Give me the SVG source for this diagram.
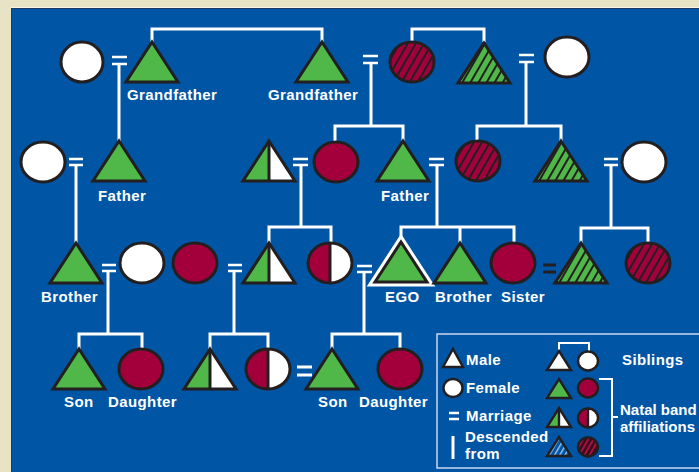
<svg xmlns="http://www.w3.org/2000/svg" width="699" height="472" viewBox="0 0 699 472">
<style>
.lbl{font-family:"Liberation Sans",Arial,Helvetica,sans-serif;font-weight:bold;font-size:15px;fill:#fff;letter-spacing:0.4px}
.tight{letter-spacing:0}
.s{stroke:#231f20;stroke-width:3;stroke-linejoin:miter}
.s2{stroke:#231f20;stroke-width:2.4;stroke-linejoin:miter}
.nf{fill:none}
.fg{fill:#50b848}
.fr{fill:#a3003b}
.fw{fill:#fff}
.fhr{fill:url(#hatchR)}
.fhg{fill:url(#hatchG)}
.fhb{fill:url(#hatchB)}
.fhd{fill:url(#hatchD)}
.link{fill:none;stroke:#fff;stroke-width:3}
.eq{fill:none;stroke:#fff;stroke-width:2.5}
.thin{fill:none;stroke:#fff;stroke-width:2}
</style>
<defs>
  <pattern id="hatchR" patternUnits="userSpaceOnUse" width="7" height="7" patternTransform="rotate(30)">
    <rect width="7" height="7" fill="#a3003b"/><rect width="2" height="7" fill="#231f20"/>
  </pattern>
  <pattern id="hatchG" patternUnits="userSpaceOnUse" width="7" height="7" patternTransform="rotate(30)">
    <rect width="7" height="7" fill="#50b848"/><rect width="2" height="7" fill="#231f20"/>
  </pattern>
  <pattern id="hatchB" patternUnits="userSpaceOnUse" width="4.5" height="4.5" patternTransform="rotate(30)">
    <rect width="4.5" height="4.5" fill="#0055a4"/><rect width="1.4" height="4.5" fill="#9cc4ec"/>
  </pattern>
  <pattern id="hatchD" patternUnits="userSpaceOnUse" width="4.5" height="4.5" patternTransform="rotate(30)">
    <rect width="4.5" height="4.5" fill="#3a0d1e"/><rect width="1.8" height="4.5" fill="#b0103f"/>
  </pattern>
  <!-- main symbols: triangle anchored at apex, ellipse at centre -->
  <path id="tri" d="M0,0L26,40H-26Z"/>
  <path id="triL" d="M0,0V40H-26Z"/>
  <path id="triMid" d="M0,0V40"/>
  <ellipse id="circ" rx="22" ry="20"/>
  <path id="circL" d="M0,-20A22,20 0 0 0 0,20Z"/>
  <path id="circMid" d="M0,-20V20"/>
  <!-- legend symbols -->
  <path id="triS" d="M0,0L12,19H-12Z"/>
  <path id="triSL" d="M0,0V19H-12Z"/>
  <path id="triSMid" d="M0,0V19"/>
  <ellipse id="circS" rx="10" ry="9.5"/>
  <path id="circSL" d="M0,-9.5A10,9.5 0 0 0 0,9.5Z"/>
  <path id="circSMid" d="M0,-9.5V9.5"/>
</defs>

<!-- background panel -->
<rect width="699" height="472" fill="#e9e3c5"/>
<rect x="11" y="7" width="688" height="1" fill="#f8f5e8"/>
<rect x="11" y="8" width="688" height="464" fill="#1c3a66"/>
<rect x="12" y="9" width="687" height="463" fill="#0055a4"/>

<!-- connectors -->
<g id="connectors">
  <path class="link" d="M119,64V141"/>
  <path class="link" d="M152,42V29H322V42"/>
  <path class="link" d="M412,42V29H484V42"/>
  <path class="link" d="M371,63V126M335,141V126H403V141"/>
  <path class="link" d="M526,62V126M477,141V126H561V141"/>
  <path class="link" d="M76,165V243"/>
  <path class="link" d="M301,165V227M269,243V227H331V243"/>
  <path class="link" d="M437,165V227M401,238V227H514V243M460,227V243"/>
  <path class="link" d="M611,165V228M581,243V228H648V243"/>
  <path class="link" d="M108,271V334M79,349V334H142V349"/>
  <path class="link" d="M234,271V334M210,349V334H268V349"/>
  <path class="link" d="M364,272V334M332,349V334H400V349"/>
  <!-- marriage signs -->
  <path class="eq" d="M112,57H127M112,64H127"/>
  <path class="eq" d="M363,56H378M363,63H378"/>
  <path class="eq" d="M519,55H534M519,62H534"/>
  <path class="eq" d="M69,159H83M69,165H83"/>
  <path class="eq" d="M293,159H308M293,165H308"/>
  <path class="eq" d="M429,159H444M429,165H444"/>
  <path class="eq" d="M604,159H618M604,165H618"/>
  <path class="eq" d="M102,265H116M102,271H116"/>
  <path class="eq" d="M228,265H242M228,271H242"/>
  <path class="eq" d="M357,266H372M357,272H372"/>
  <path fill="none" stroke="#231f20" stroke-width="3" d="M543,265H556M543,272H556"/>
  <path fill="none" stroke="#fff" stroke-width="3" d="M297,367H312M297,375H312"/>
</g>

<!-- generation 1 -->
<g id="gen1-wife-a" transform="translate(82,62)"><ellipse rx="21" ry="20" class="fw s"/></g>
<g id="grandfather-a" transform="translate(152,42)"><use href="#tri" class="fg s"/>
  <text class="lbl" x="-25" y="58">Grandfather</text></g>
<g id="grandfather-b" transform="translate(322,42)"><use href="#tri" class="fg s"/>
  <text class="lbl" x="-54" y="58">Grandfather</text></g>
<g id="grandmother-b" transform="translate(412,62)"><use href="#circ" class="fhr s"/></g>
<g id="granduncle" transform="translate(484,43)"><use href="#tri" class="fhg s"/></g>
<g id="granduncle-wife" transform="translate(567,57)"><use href="#circ" class="fw s"/></g>

<!-- generation 2 -->
<g id="father-a-wife" transform="translate(43,162)"><use href="#circ" class="fw s"/></g>
<g id="father-a" transform="translate(119,141)"><use href="#tri" class="fg s"/>
  <text class="lbl" x="-21" y="60">Father</text></g>
<g id="uncle-mixed" transform="translate(269,141)"><use href="#tri" class="fw"/><use href="#triL" class="fg"/><use href="#tri" class="nf s"/><use href="#triMid" class="nf s"/></g>
<g id="aunt" transform="translate(336,162)"><use href="#circ" class="fr s"/></g>
<g id="father-b" transform="translate(403,141)"><use href="#tri" class="fg s"/>
  <text class="lbl" x="-22" y="60">Father</text></g>
<g id="mother" transform="translate(478,161)"><use href="#circ" class="fhr s"/></g>
<g id="mother-brother" transform="translate(561,141)"><use href="#tri" class="fhg s"/></g>
<g id="mother-brother-wife" transform="translate(644,162)"><use href="#circ" class="fw s"/></g>

<!-- generation 3 -->
<g id="brother-a" transform="translate(76,243)"><use href="#tri" class="fg s"/>
  <text class="lbl" x="-35" y="59">Brother</text></g>
<g id="brother-a-wife" transform="translate(142,263)"><use href="#circ" class="fw s"/></g>
<g id="cousin-wife" transform="translate(195,263)"><use href="#circ" class="fr s"/></g>
<g id="cousin-m" transform="translate(269,243)"><use href="#tri" class="fw"/><use href="#triL" class="fg"/><use href="#tri" class="nf s"/><use href="#triMid" class="nf s"/></g>
<g id="cousin-f" transform="translate(330,263)"><use href="#circ" class="fw"/><use href="#circL" class="fr"/><use href="#circ" class="nf s"/><use href="#circMid" class="nf s"/></g>
<g id="ego" transform="translate(401,242)"><use href="#tri" fill="none" stroke="#fff" stroke-width="9" stroke-linejoin="miter"/><use href="#tri" class="fg s"/>
  <text class="lbl" x="-16" y="60">EGO</text></g>
<g id="brother-b" transform="translate(460,243)"><use href="#tri" class="fg s"/>
  <text class="lbl" x="-25" y="59">Brother</text></g>
<g id="sister" transform="translate(513,263)"><use href="#circ" class="fr s"/>
  <text class="lbl" x="-12" y="39">Sister</text></g>
<g id="sister-husband" transform="translate(581,243)"><use href="#tri" class="fhg s"/></g>
<g id="cross-cousin" transform="translate(648,263)"><use href="#circ" class="fhr s"/></g>

<!-- generation 4 -->
<g id="son-a" transform="translate(79,349)"><use href="#tri" class="fg s"/>
  <text class="lbl" x="-15" y="58">Son</text></g>
<g id="daughter-a" transform="translate(141,369)"><use href="#circ" class="fr s"/>
  <text class="lbl" x="-33" y="38">Daughter</text></g>
<g id="child-m" transform="translate(210,349)"><use href="#tri" class="fw"/><use href="#triL" class="fg"/><use href="#tri" class="nf s"/><use href="#triMid" class="nf s"/></g>
<g id="child-f" transform="translate(268,369)"><use href="#circ" class="fw"/><use href="#circL" class="fr"/><use href="#circ" class="nf s"/><use href="#circMid" class="nf s"/></g>
<g id="son-b" transform="translate(332,349)"><use href="#tri" class="fg s"/>
  <text class="lbl" x="-14" y="58">Son</text></g>
<g id="daughter-b" transform="translate(400,369)"><use href="#circ" class="fr s"/>
  <text class="lbl" x="-41" y="38">Daughter</text></g>

<!-- key -->
<g id="legend">
  <rect x="437" y="334" width="280" height="134" fill="none" stroke="#c9d8ee" stroke-width="1.5"/>
  <g transform="translate(453,349)"><path d="M0,0L10,18H-10Z" class="fw s2"/></g>
  <text class="lbl" x="466" y="365">Male</text>
  <g transform="translate(453,388)"><ellipse rx="9.5" ry="9" class="fw s2"/></g>
  <text class="lbl" x="466" y="393">Female</text>
  <path class="eq" d="M449,413H459M449,419H459"/>
  <text class="lbl" x="466" y="421">Marriage</text>
  <path class="link" d="M453,436V459"/>
  <text class="lbl" x="465" y="442">Descended</text>
  <text class="lbl" x="465" y="459">from</text>

  <path class="thin" d="M559,352V343H589V352"/>
  <g transform="translate(559,351)"><use href="#triS" class="fw s2"/></g>
  <g transform="translate(588,361)"><use href="#circS" class="fw s2"/></g>
  <text class="lbl" x="622" y="365">Siblings</text>

  <g transform="translate(559,379)"><use href="#triS" class="fg s2"/></g>
  <g transform="translate(588,388)"><use href="#circS" class="fr s2"/></g>
  <g transform="translate(559,408)"><use href="#triS" class="fw"/><use href="#triSL" class="fg"/><use href="#triS" class="nf s2"/><use href="#triSMid" class="nf s2"/></g>
  <g transform="translate(588,418)"><use href="#circS" class="fw"/><use href="#circSL" class="fr"/><use href="#circS" class="nf s2"/><use href="#circSMid" class="nf s2"/></g>
  <g transform="translate(559,437)"><use href="#triS" class="fhb s2"/></g>
  <g transform="translate(588,447)"><use href="#circS" class="fhd s2"/></g>

  <path class="thin" d="M599,379H612V456H599M612,417H618"/>
  <text class="lbl tight" x="620" y="415" font-size="14.5">Natal band</text>
  <text class="lbl tight" x="620" y="432" font-size="14.5">affiliations</text>
</g>
</svg>
